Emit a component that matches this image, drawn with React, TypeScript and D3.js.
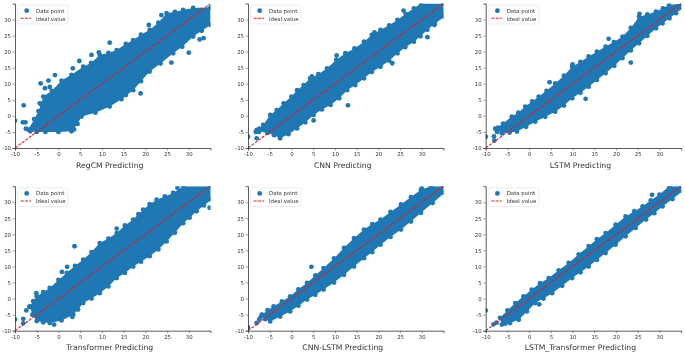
import React, { useRef, useEffect } from "react";
import * as d3 from "d3";

type Pt = [number, number];

const tickValues = [-10, -5, 0, 5, 10, 15, 20, 25, 30];
const legendLabels = ["Data point", "Ideal value"];
const idealLine: Pt[] = [[-10, -10], [35, 35]];
const panelLefts = [15, 248, 485.7];
const rowBottoms = [148, 330.7];
const panelW = 195.5;
const panelH = 144.5;

// envelope of the dense cloud
const regcmUpper: Pt[] = [[-7, -4.2], [-5.5, -1], [-4.6, 1.5], [-4, 3.6], [-3.5, 6], [-1.5, 7.8], [0.7, 11], [3, 12.8], [5.7, 15.3], [7.5, 16.5], [9.5, 19], [11.5, 19.6], [13.4, 20.5], [15.5, 22.4], [17.2, 23.6], [19, 25.3], [21, 26.8], [23, 29], [24.9, 32], [26.8, 32.4], [28.7, 33], [31, 33.6], [35, 33.8]];
const regcmLower: Pt[] = [[35, 28.3], [33, 26.5], [31, 24.7], [28.5, 21.5], [26.4, 19.5], [23.5, 16.3], [21, 13.8], [19, 10.8], [17.2, 8], [14.5, 5.2], [11.8, 2.9], [8.5, 1], [5.3, -0.2], [4.4, -2.5], [3, -4.8], [0, -5], [-3, -5], [-5, -5], [-6.5, -4.8]];
const regcmOutliers: Pt[] = [[-10, -1.5], [-8, 3.3], [-8.2, -2], [-7.6, -2], [-7.5, -4], [-5.6, -1], [-4.1, 10.1], [-2.3, 11], [-3.1, 8.6], [-2, 9], [-0.8, 12.7], [-4.3, 3.9], [-3.6, 3.9], [3.3, 14.8], [4.8, 17.1], [7.6, 19], [9.3, 19.8], [11.8, 22.8], [20.8, 28.3], [23.7, 31.4], [18.9, 7], [15.5, 6.5], [13.7, 6], [30, 19.7], [32.5, 23.8], [33.4, 24.2], [26, 16.6], [3.6, -4.2]];

const cnnUpper: Pt[] = [[-8, -4.4], [-6.5, -2.8], [-4.9, 0.3], [-3.4, 1.8], [-1.8, 3.9], [0, 6], [1.3, 8], [2.8, 9.6], [4.3, 11.7], [6.2, 13], [8.2, 14.8], [10.3, 17.4], [12.4, 19.5], [14.5, 21], [16.7, 23.1], [18.5, 25.2], [20.5, 26.8], [22.5, 28.2], [24.4, 29.9], [26.3, 31.8], [28.2, 33.5], [29.8, 35], [35, 35]];
const cnnLower: Pt[] = [[35.2, 30.9], [33, 28.7], [31.3, 26.8], [29.7, 24.8], [28.2, 23.1], [26.2, 21.4], [24.4, 19.5], [22.5, 17.2], [20.5, 15.3], [18.5, 13.7], [16.7, 11.7], [14.7, 9.6], [12.8, 8], [11, 5.5], [9, 3.4], [7, 2], [5.1, 0.3], [3.2, -2], [1.3, -3.9], [-0.7, -5.7], [-2.6, -7], [-4, -6], [-5.5, -5.3], [-7.5, -4.8]];
const cnnOutliers: Pt[] = [[-10, -6.5], [-8, -7], [-8.2, -5], [-7.5, -5], [-7.4, -4], [4.7, 12.3], [10.4, 18.8], [13, 3.3], [5.1, -1.4], [19.1, 26], [25.8, 32.8], [31.3, 24.5], [32.9, 28.3], [23.2, 16.4], [1.3, 6], [-4.5, -0.2]];

const lstmUpper: Pt[] = [[-7.8, -4], [-6, -2.4], [-4, -0.2], [-2.5, 1], [-0.9, 2.9], [0.7, 4.5], [2.2, 6], [4, 7.8], [6, 10.1], [8, 12.5], [9.9, 15.3], [11.8, 16.8], [13.7, 18.5], [15.6, 20], [17.6, 21.6], [19.5, 23], [21.5, 24.7], [23.4, 27.4], [25.3, 30.9], [27.2, 31.6], [29.2, 32.5], [30.8, 33.5], [32.2, 34.5], [35.3, 35]];
const lstmLower: Pt[] = [[35.3, 33.5], [33.8, 32], [32.3, 30.4], [30.7, 28.8], [29.2, 27.3], [27.2, 24.9], [25.3, 22.6], [23.4, 20.4], [21.5, 18], [19.6, 15.6], [17.6, 13.3], [15.6, 11.2], [13.7, 9.1], [11.8, 7.2], [9.9, 5.5], [8, 3.2], [6, 1.3], [3.7, -0.3], [1.4, -1.8], [-0.7, -3.4], [-2.8, -4.9], [-4.5, -5.2], [-6.3, -5.4]];
const lstmOutliers: Pt[] = [[-10, -6.5], [-8.1, -6.4], [-8, -7.7], [-7.4, -5], [-7.2, -3.7], [4.7, 10.5], [13, 5.3], [23.4, 16.6], [25.4, 31.8], [10, 16], [18.3, 24]];

const transformerUpper: Pt[] = [[-6.6, -2.4], [-5.8, -0.8], [-5, 0.7], [-3.5, 2], [-2, 3.3], [0, 5.8], [1.9, 8], [3.8, 10.2], [5.7, 12.1], [7.6, 14.5], [9.5, 17.3], [11.5, 18.7], [13.4, 20.4], [15.3, 22.8], [17.2, 24.6], [18.4, 26.3], [19.5, 27.7], [21, 29.4], [22.6, 30.8], [24.5, 31.8], [26.4, 32.9], [28.7, 35], [35, 35]];
const transformerLower: Pt[] = [[35.2, 30.8], [33.5, 29], [31.8, 27.2], [30.2, 25.2], [28.7, 23.5], [26.8, 20.5], [24.9, 17.8], [23, 15.3], [21, 13.2], [19, 11.5], [17.2, 10], [15.3, 8], [13.4, 6.4], [11.5, 3.8], [9.5, 1.7], [7.6, 0], [5.7, -1.4], [4.5, -3.4], [3.4, -5], [0.7, -6.8], [-2, -7.6], [-3.5, -7.4], [-5, -7], [-6, -5]];
const transformerOutliers: Pt[] = [[-10, -6.5], [-8.1, -6.3], [-8.1, -7.7], [-7.4, -3.7], [-6.7, -2.6], [-5.1, 1.7], [-1, -8.1], [3.7, 16.3], [0.8, 8.3], [2, 9.9], [3.2, -5.7], [3.3, -4.7], [13.4, 21.8], [34.8, 28.3], [27.4, 34.5]];

const cnnLstmUpper: Pt[] = [[-6.8, -5], [-5.5, -3.6], [-4.1, -2.4], [-2.2, -0.9], [-0.3, 0.7], [1.6, 2.9], [3.6, 4.9], [5.5, 7.2], [7.4, 9.5], [9.8, 12.5], [12.1, 15.8], [14.4, 18.8], [16.7, 21.5], [18.6, 23.2], [20.5, 24.6], [22.8, 27], [25.2, 29.3], [27.5, 31.6], [29.8, 33.9], [32.1, 35], [35, 35]];
const cnnLstmLower: Pt[] = [[35.2, 32.9], [32.5, 29.8], [29.8, 26.7], [27.5, 24], [25.2, 21.5], [22.8, 19.2], [20.5, 16.8], [18.6, 14.5], [16.7, 12.6], [14.4, 10], [12.1, 7.4], [9.8, 5], [7.4, 2.8], [5.5, 1.2], [3.6, -0.3], [1.6, -2.2], [-0.3, -4], [-2.6, -5.6], [-4.9, -7.1], [-6, -6.4], [-7, -5.6]];
const cnnLstmOutliers: Pt[] = [[-10, -9], [-8, -7.6], [-7.4, -6.4], [-6.8, -5.1], [4.6, 9.9], [30, 34.3]];

const lstmTransUpper: Pt[] = [[-6.7, -6], [-5, -3.7], [-3.2, -1.4], [-1.3, 0.7], [0.6, 2.8], [2.5, 4.8], [4.5, 6.4], [6.8, 8.8], [9.1, 11.1], [11.4, 13.8], [13.7, 16.3], [15.6, 18.5], [17.6, 20.4], [19.9, 23], [22.2, 25.6], [24.2, 27.2], [26.1, 28.7], [28, 30.6], [30, 32.4], [32.2, 35], [35, 35]];
const lstmTransLower: Pt[] = [[35.3, 33.4], [33, 31], [30.7, 28.7], [28.8, 26.6], [26.9, 24.6], [24.5, 22], [22.2, 19.4], [19.9, 16.8], [17.6, 14.2], [15.6, 12.1], [13.7, 10], [11.8, 8.2], [9.9, 6.4], [7.6, 4], [5.3, 1.7], [3.3, 0], [1.4, -1.4], [-0.5, -4], [-2.4, -6.6], [-4.4, -7.6], [-6.3, -8.1]];
const lstmTransOutliers: Pt[] = [[-10, -3.7], [-8.2, -8], [-7.5, -7.5], [28.3, 32.3], [-5.5, -7.8], [2.3, -1.8]];

const panels = [
  { title: "RegCM Predicting", upper: regcmUpper, lower: regcmLower, outliers: regcmOutliers, col: 0, row: 0 },
  { title: "CNN Predicting", upper: cnnUpper, lower: cnnLower, outliers: cnnOutliers, col: 1, row: 0 },
  { title: "LSTM Predicting", upper: lstmUpper, lower: lstmLower, outliers: lstmOutliers, col: 2, row: 0 },
  { title: "Transformer Predicting", upper: transformerUpper, lower: transformerLower, outliers: transformerOutliers, col: 0, row: 1 },
  { title: "CNN-LSTM Predicting", upper: cnnLstmUpper, lower: cnnLstmLower, outliers: cnnLstmOutliers, col: 1, row: 1 },
  { title: "LSTM_Transformer Predicting", upper: lstmTransUpper, lower: lstmTransLower, outliers: lstmTransOutliers, col: 2, row: 1 },
];

const BLUE = "#1f77b4";
const RED = "#e8181e";
const FONT = "'DejaVu Sans', sans-serif";

const Panel = ({ p, i }: { p: (typeof panels)[number]; i: number }) => {
  const gx = useRef<SVGGElement>(null);
  const gy = useRef<SVGGElement>(null);
  const x = d3.scaleLinear().domain([-10, 35]).range([0, panelW]);
  const y = d3.scaleLinear().domain([-10, 35]).range([panelH, 0]);
  const line = d3.line<Pt>().x((d) => x(d[0])).y((d) => y(d[1]));

  useEffect(() => {
    const style = (g: any) => {
      g.selectAll("text").attr("font-family", FONT).attr("font-size", 5.4).attr("fill", "#333");
      g.selectAll("line").attr("stroke", "#444").attr("stroke-width", 0.5);
      g.select(".domain").attr("stroke", "#333").attr("stroke-width", 0.8);
    };
    d3.select(gx.current)
      .call(d3.axisBottom(x).tickValues(tickValues).tickFormat((d) => String(d)).tickSize(2.4).tickPadding(1.6) as any)
      .call(style);
    d3.select(gy.current)
      .call(d3.axisLeft(y).tickValues(tickValues).tickFormat((d) => String(d)).tickSize(2.4).tickPadding(1.6) as any)
      .call(style);
  }, []);

  const edge = [...p.upper, ...p.lower];
  const markers = [...edge, ...p.outliers];
  return (
    <g transform={`translate(${panelLefts[p.col]},${rowBottoms[p.row] - panelH})`}>
      <defs>
        <clipPath id={`clip${i}`}>
          <rect x={0} y={0} width={panelW} height={panelH} />
        </clipPath>
      </defs>
      <g clipPath={`url(#clip${i})`}>
        <path d={(line(edge) ?? "") + "Z"} fill={BLUE} />
        {markers.map((d, k) => (
          <circle key={k} cx={x(d[0])} cy={y(d[1])} r={2.4} fill={BLUE} />
        ))}
        <path d={line(idealLine) ?? ""} fill="none" stroke={RED} strokeWidth={1.05} strokeDasharray="3 1.3" />
      </g>
      <g ref={gx} transform={`translate(0,${panelH})`} />
      <g ref={gy} />
      <text x={panelW / 2 - 3} y={panelH + 19.5} textAnchor="middle" fontFamily={FONT} fontSize={7.7} fill="#333">
        {p.title}
      </text>
      <g>
        <rect x={2.5} y={1.6} width={50.5} height={18.8} rx={1.5} fill="#fff" fillOpacity={0.85} stroke="#ddd" strokeWidth={0.5} />
        <circle cx={11.7} cy={7.2} r={2.4} fill={BLUE} />
        <line x1={5.7} x2={16} y1={14.8} y2={14.8} stroke={RED} strokeWidth={1.05} strokeDasharray="3 1.3" />
        {legendLabels.map((t, k) => (
          <text key={t} x={21} y={9 + k * 8} fontFamily={FONT} fontSize={5.4} fill="#333">
            {t}
          </text>
        ))}
      </g>
    </g>
  );
};

export default function App() {
  return (
    <svg width={685} height={353} style={{ position: "absolute", left: 0, top: 0, background: "#fff", filter: "blur(0.4px)" }}>
      {panels.map((p, i) => (
        <Panel key={p.title} p={p} i={i} />
      ))}
    </svg>
  );
}
